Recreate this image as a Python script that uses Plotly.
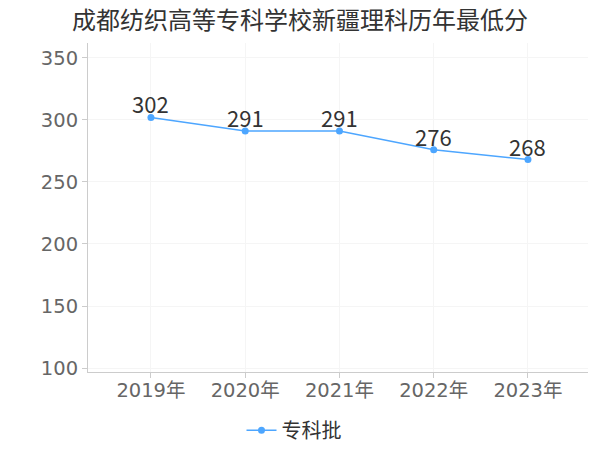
import plotly.graph_objects as go

years = ["2019年", "2020年", "2021年", "2022年", "2023年"]
scores = [302, 291, 291, 276, 268]
series_name = "专科批"
title = "成都纺织高等专科学校新疆理科历年最低分"
y_ticks = [100, 150, 200, 250, 300, 350]

font = "DejaVu Sans, Noto Sans CJK SC, sans-serif"
cjk = "Noto Sans CJK SC, sans-serif"
line_color = "#4da6ff"

fig = go.Figure()
fig.add_trace(go.Scatter(
    x=years, y=scores, mode="lines+markers", name=series_name,
    line=dict(color=line_color, width=1.5),
    marker=dict(color=line_color, size=7),
    cliponaxis=False,
))

for yr, v in zip(years, scores):
    fig.add_annotation(x=yr, y=v, text=str(v), showarrow=False,
                       xanchor="center", yanchor="middle", yshift=14,
                       font=dict(size=22, color="#333333", family=cjk))

fig.update_layout(
    width=600, height=450,
    margin=dict(l=88, r=12, t=43, b=78, autoexpand=False),
    paper_bgcolor="white", plot_bgcolor="white",
    font=dict(family=font, color="#666666"),
    title=dict(text=title, x=0.5, xanchor="center", y=0.955, yanchor="middle",
               font=dict(size=24, color="#333333", family=cjk)),
    showlegend=True,
    legend=dict(orientation="h", xref="container", x=0.49, xanchor="center",
                yref="container", y=0.044, yanchor="middle",
                font=dict(size=20, color="#333333", family=cjk)),
    xaxis=dict(
        type="category", range=[-0.668, 4.637], automargin=False,
        showline=True, linecolor="#cccccc", linewidth=1,
        ticks="outside", ticklen=5, tickcolor="#cccccc",
        ticklabelstandoff=-4,
        showgrid=True, gridcolor="#f5f5f5",
        tickfont=dict(size=19.5, color="#666666", family=font),
        zeroline=False,
    ),
    yaxis=dict(
        range=[96.8, 362], tickvals=y_ticks, automargin=False,
        showline=True, linecolor="#cccccc", linewidth=1,
        ticks="outside", ticklen=5, tickcolor="#cccccc",
        showgrid=True, gridcolor="#f5f5f5",
        tickfont=dict(size=19.5, color="#666666", family=font),
        zeroline=False,
    ),
)

fig.write_html("out.html", post_script="document.body.style.margin='0';",
               config={"displayModeBar": False})
